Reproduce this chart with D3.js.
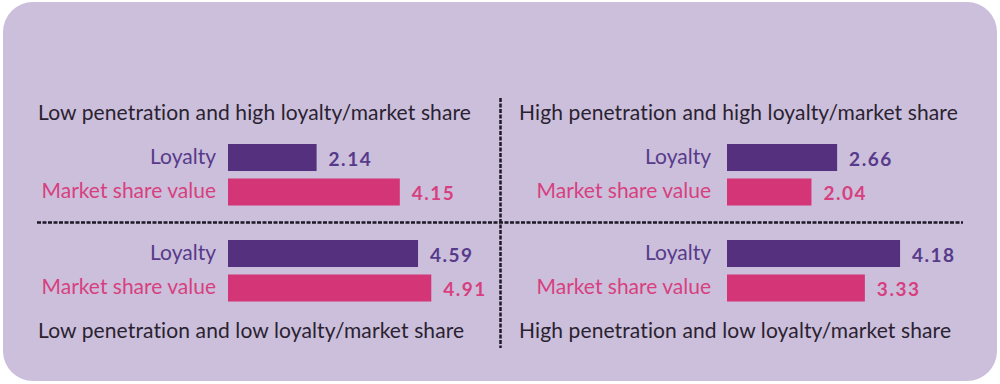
<!DOCTYPE html>
<html>
<head>
    <meta charset="utf-8" />
    <title>Penetration vs loyalty</title>
    <script type="text/javascript" src="https://cdn.jsdelivr.net/npm/d3@7"></script>
    <style>
        body { margin: 0; background: #ffffff; }
        svg { display: block; }
        text { font-family: Lato, "Noto Sans", sans-serif; font-variant-ligatures: none; }
    </style>
</head>
<body>
    <script type="text/javascript">

        // Data
        var quadrants = [
            "Low penetration and high loyalty/market share",
            "High penetration and high loyalty/market share",
            "Low penetration and low loyalty/market share",
            "High penetration and low loyalty/market share"
        ];
        var measures = ["Loyalty", "Market share value"];
        var loyalty = [2.14, 2.66, 4.59, 4.18];
        var marketShare = [4.15, 2.04, 4.91, 3.33];

        var w = 1000;
        var h = 384;

        var barColor = { "Loyalty": "#55307f", "Market share value": "#d43577" };
        var textColor = { "Loyalty": "#573a8a", "Market share value": "#d83f80" };

        var svg = d3.select("body")
            .append("svg")
            .attr("width", w)
            .attr("height", h);

        // panel
        svg.append("rect")
            .attr("x", 3)
            .attr("y", 2)
            .attr("width", 994)
            .attr("height", 379)
            .attr("rx", 30)
            .attr("fill", "#cbbfdb");

        // bar length scale, shared by every quadrant
        var xScale = d3.scaleLinear().domain([0, 5]).range([0, 207]);

        // layout of each quadrant
        var layout = [
            { x0: 228, labelX: 216, titleX: 38, titleY: 120, top: 144 },
            { x0: 727, labelX: 711, titleX: 519, titleY: 120, top: 144 },
            { x0: 228, labelX: 216, titleX: 38, titleY: 338, top: 240 },
            { x0: 727, labelX: 711, titleX: 519, titleY: 338, top: 240 }
        ];

        quadrants.forEach(function (title, i) {
            var L = layout[i];
            var rows = [
                { m: measures[0], v: loyalty[i] },
                { m: measures[1], v: marketShare[i] }
            ];

            var yScale = d3.scaleBand()
                .domain(measures)
                .range([L.top, L.top + 61.5])
                .paddingInner(0.217)
                .paddingOuter(0);

            var g = svg.append("g").attr("class", "quadrant");

            g.append("text")
                .attr("x", L.titleX)
                .attr("y", L.titleY)
                .attr("fill", "#2a2230")
                .attr("font-size", 21)
                .attr("letter-spacing", 0.12)
                .text(title);

            g.selectAll("rect.bar")
                .data(rows)
                .enter()
                .append("rect")
                .attr("class", "bar")
                .attr("x", L.x0)
                .attr("y", function (d) { return yScale(d.m); })
                .attr("width", function (d) { return xScale(d.v); })
                .attr("height", yScale.bandwidth())
                .attr("fill", function (d) { return barColor[d.m]; });

            g.selectAll("text.label")
                .data(rows)
                .enter()
                .append("text")
                .attr("class", "label")
                .attr("x", L.labelX)
                .attr("y", function (d) { return yScale(d.m) + yScale.bandwidth() / 2 + 6; })
                .attr("text-anchor", "end")
                .attr("font-size", 21)
                .attr("fill", function (d) { return textColor[d.m]; })
                .text(function (d) { return d.m; });

            g.selectAll("text.value")
                .data(rows)
                .enter()
                .append("text")
                .attr("class", "value")
                .attr("x", function (d) { return L.x0 + xScale(d.v) + 12; })
                .attr("y", function (d) { return yScale(d.m) + yScale.bandwidth() / 2 + 8; })
                .attr("font-size", 19)
                .attr("font-weight", "bold")
                .attr("letter-spacing", 1.5)
                .attr("fill", function (d) { return textColor[d.m]; })
                .text(function (d) { return d3.format(".2f")(d.v); });
        });

        // dotted dividers
        svg.append("line")
            .attr("x1", 37).attr("x2", 963)
            .attr("y1", 222.5).attr("y2", 222.5)
            .attr("stroke", "#1c1826")
            .attr("stroke-width", 2.5)
            .attr("stroke-dasharray", "4,1.5");

        svg.append("line")
            .attr("x1", 500.5).attr("x2", 500.5)
            .attr("y1", 98).attr("y2", 348)
            .attr("stroke", "#1c1826")
            .attr("stroke-width", 2.5)
            .attr("stroke-dasharray", "4,1.5");

    </script>
</body>
</html>
